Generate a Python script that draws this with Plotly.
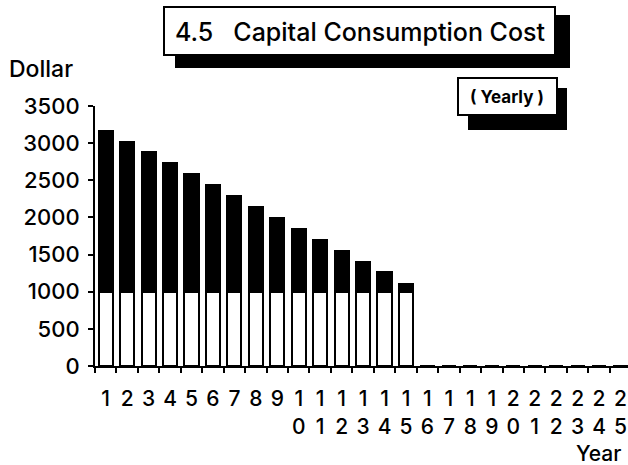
import plotly.graph_objects as go

# Yearly capital consumption cost, split into depreciation and interest (dollars)
years = [str(y) for y in range(1, 26)]
year_labels = ["1", "2", "3", "4", "5", "6", "7", "8", "9",
               "1<br>0", "1<br>1", "1<br>2", "1<br>3", "1<br>4", "1<br>5",
               "1<br>6", "1<br>7", "1<br>8", "1<br>9", "2<br>0", "2<br>1",
               "2<br>2", "2<br>3", "2<br>4", "2<br>5"]
depreciation = [1000, 1000, 1000, 1000, 1000, 1000, 1000, 1000, 1000, 1000,
                1000, 1000, 1000, 1000, 1000, 0, 0, 0, 0, 0, 0, 0, 0, 0, 0]
interest = [2170, 2020, 1875, 1730, 1580, 1430, 1285, 1140, 990, 840,
            695, 550, 405, 265, 110, 0, 0, 0, 0, 0, 0, 0, 0, 0, 0]
y_ticks = [0, 500, 1000, 1500, 2000, 2500, 3000, 3500]

FONT = "Inter"
INK = "#000"
W, H = 628, 465
L, R, T, B = 95, 0, 106, 99
PW, PH = W - L - R, H - T - B


def px(x):
    return (x - L) / PW


def py(y):
    return (H - B - y) / PH


fig = go.Figure()
fig.add_trace(go.Bar(x=years, y=depreciation, marker=dict(color="white", line=dict(color="black", width=2)),
                     showlegend=False))
fig.add_trace(go.Bar(x=years, y=interest, marker=dict(color="black", line=dict(color="black", width=2)),
                     showlegend=False))

shapes = [
    # title box with drop shadow
    dict(type="rect", xref="paper", yref="paper", x0=px(175), x1=px(570), y0=py(68), y1=py(15),
         fillcolor="black", line=dict(width=0)),
    dict(type="rect", xref="paper", yref="paper", x0=px(164), x1=px(555), y0=py(55), y1=py(7),
         fillcolor="white", line=dict(color="black", width=2)),
    # "(Yearly)" box with drop shadow
    dict(type="rect", xref="paper", yref="paper", x0=px(468), x1=px(567), y0=py(130), y1=py(88),
         fillcolor="black", line=dict(width=0)),
    dict(type="rect", xref="paper", yref="paper", x0=px(458), x1=px(557), y0=py(115), y1=py(78),
         fillcolor="white", line=dict(color="black", width=2)),
]

annotations = [
    dict(text="4.5\u00a0\u00a0\u00a0Capital Consumption Cost", xref="paper", yref="paper",
         x=px(360), y=py(32), xanchor="center", yanchor="middle", showarrow=False,
         font=dict(family=FONT, size=25, color=INK, weight=500)),
    dict(text="<b>( Yearly )</b>", xref="paper", yref="paper",
         x=px(507), y=py(97), xanchor="center", yanchor="middle", showarrow=False,
         font=dict(family=FONT, size=17, color=INK)),
    dict(text="Dollar", xref="paper", yref="paper", x=px(7), y=py(69),
         xanchor="left", yanchor="middle", showarrow=False,
         font=dict(family=FONT, size=23, color=INK, weight=500)),
    dict(text="Year", xref="paper", yref="paper", x=px(623), y=py(453),
         xanchor="right", yanchor="middle", showarrow=False,
         font=dict(family=FONT, size=21, color=INK, weight=500)),
]

fig.update_layout(
    width=W, height=H,
    margin=dict(l=L, r=R, t=T, b=B, pad=0),
    paper_bgcolor="white", plot_bgcolor="white",
    barmode="stack", bargap=0.34,
    font=dict(family=FONT, size=22, color=INK),
    shapes=shapes, annotations=annotations,
    xaxis=dict(type="category", range=[-0.5, 24.35], tickmode="array", tickvals=years,
               ticktext=year_labels, tickangle=0, tickson="boundaries", ticks="outside", ticklen=5,
               tickwidth=1.5, tickcolor="black", showline=True, linecolor="black", linewidth=2,
               showgrid=False, zeroline=False, ticklabelstandoff=13,
               tickfont=dict(family=FONT, size=21, color=INK, weight=500)),
    yaxis=dict(range=[0, 3500], tickmode="array", tickvals=y_ticks, ticks="outside", ticklen=5,
               tickwidth=1.5, tickcolor="black", showline=True, linecolor="black", linewidth=2,
               showgrid=False, zeroline=False, ticklabelstandoff=4,
               tickfont=dict(family=FONT, size=22, color=INK, weight=500)),
    # companion axes that draw the inner half of the crossing tick marks
    xaxis2=dict(overlaying="x", anchor="y", range=[-0.5, 24.35], tick0=-0.5, dtick=1,
                ticks="inside", ticklen=4, tickwidth=1.5, tickcolor="black",
                showticklabels=False, showline=False, showgrid=False, zeroline=False),
    yaxis2=dict(overlaying="y", anchor="x", side="left", range=[0, 3500], tickmode="array",
                tickvals=y_ticks, ticks="inside", ticklen=4, tickwidth=1.5, tickcolor="black",
                showticklabels=False, showline=False, showgrid=False, zeroline=False),
)

fig.write_html("out.html")
